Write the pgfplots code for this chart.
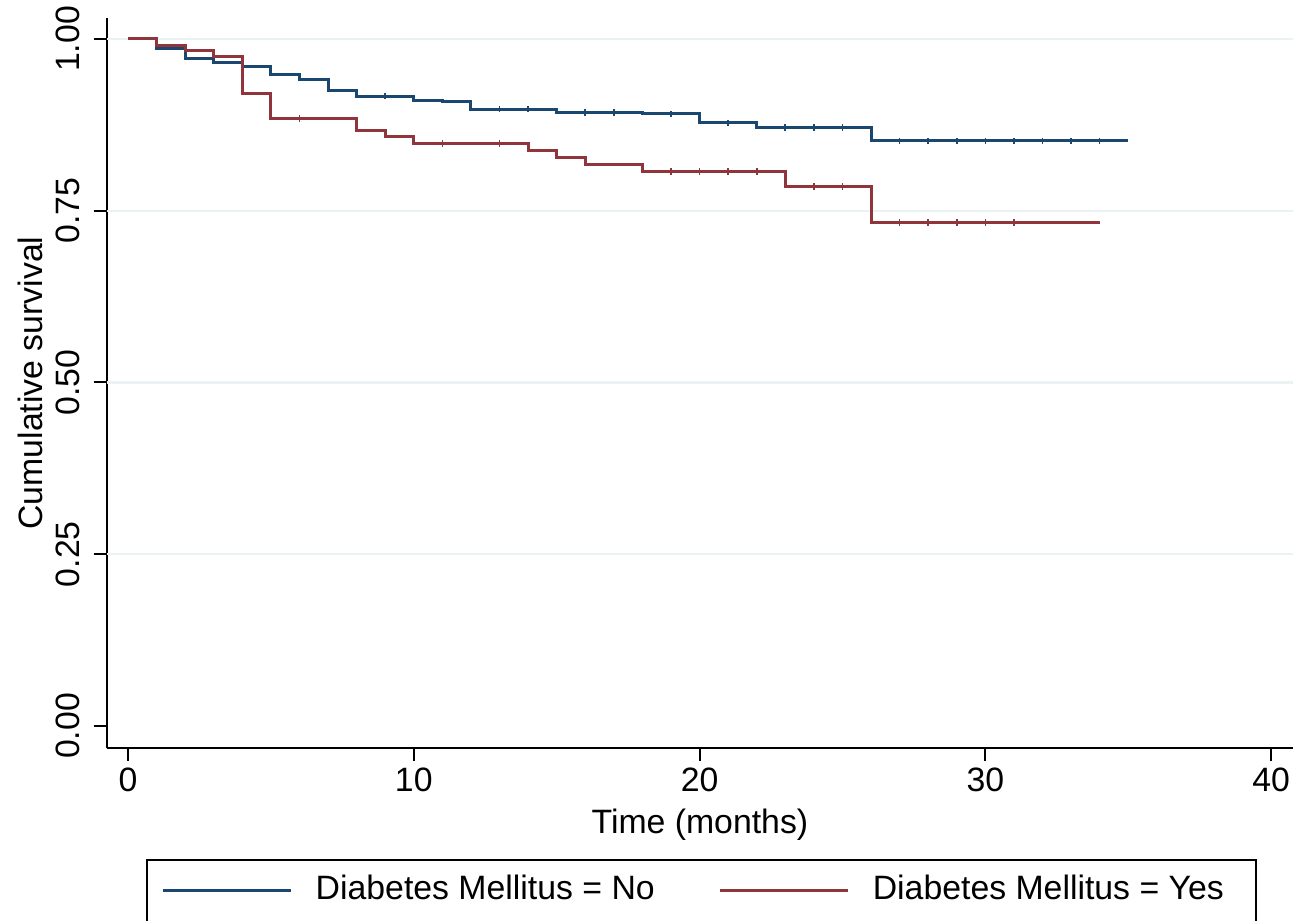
\documentclass[border=0pt]{standalone}
\usepackage{pgfplots}
\pgfplotsset{compat=1.18}
\usepackage{fontspec}
\setmainfont{Liberation Sans}
\definecolor{snavy}{HTML}{1A476F}
\definecolor{smaroon}{HTML}{90353B}
\definecolor{sgrid}{HTML}{EAF2F3}
\newcommand{\fs}{\fontsize{16.9}{20}\selectfont}
\begin{document}
\begin{tikzpicture}
\begin{axis}[
  at={(0pt,0pt)}, anchor=south west,
  scale only axis, width=593.2pt, height=364.7pt,
  xmin=-0.745, xmax=40.77, ymin=-0.0316, ymax=1.0301,
  axis x line*=bottom, axis y line*=left,
  axis line style={-, line width=1pt, black},
  xtick={0,10,20,30,40},
  ytick={0,0.25,0.5,0.75,1},
  tick align=outside,
  major tick length=6.5pt,
  every tick/.style={black, line width=1pt},
  extra y ticks={0.25,0.5,0.75,1},
  extra y tick labels={},
  extra y tick style={ymajorgrids=true, major tick length=0pt},
  major grid style={sgrid, line width=1.2pt},
  /pgf/number format/assume math mode=true,
  yticklabel shift=3.5pt,
  yticklabel style={/pgf/number format/.cd, fixed, fixed zerofill, precision=2, /tikz/.cd, rotate=90, anchor=south, font=\fs},
  xticklabel style={font=\fs},
  xlabel={Time (months)},
  ylabel={Cumulative survival},
  every axis x label/.style={at={([yshift=-38.5pt]axis description cs:0.5,0)}, anchor=center, font=\fs},
  every axis y label/.style={at={([xshift=-38.35pt]axis description cs:0,0.5)}, rotate=90, anchor=center, font=\fs},
  legend columns=2,
  legend image code/.code={\draw[#1] (0pt,4.5pt) -- (64pt,4.5pt);},
  legend style={at={(axis description cs:0.0329,-0.1526)}, anchor=north west,
    draw=black, line width=1pt, font=\fs, inner xsep=7.5pt, inner ysep=7.5pt,
    nodes={inner sep=0pt, text height=12.3pt, text depth=5pt, anchor=base west},
    /tikz/every odd column/.append style={column sep=11.5pt},
    /tikz/every even column/.append style={column sep=32pt}},
  legend cell align=left,
]
\addplot[const plot, snavy, line width=1.5pt] coordinates {
 (0,1.000) (1,0.9865) (2,0.9709) (3,0.966) (4,0.9597) (5,0.9486) (6,0.9403)
 (7,0.9243) (8,0.9166) (10,0.911) (11,0.909) (12,0.898) (15,0.893) (18,0.891)
 (20,0.878) (22,0.871) (26,0.8515) (35,0.8515)};
\addlegendentry{Diabetes Mellitus = No}
\addplot[only marks, mark=|, mark size=1.6pt, snavy, line width=0.8pt, forget plot] coordinates {
 (9,0.9166) (13,0.898) (14,0.898) (16,0.893) (17,0.893) (19,0.891) (21,0.878)
 (23,0.871) (24,0.871) (25,0.871) (27,0.8515) (28,0.8515) (29,0.8515) (30,0.8515)
 (31,0.8515) (32,0.8515) (33,0.8515) (34,0.8515)};
\addplot[const plot, smaroon, line width=1.5pt] coordinates {
 (0,1.000) (1,0.991) (2,0.983) (3,0.974) (4,0.920) (5,0.8845) (8,0.8666)
 (9,0.858) (10,0.848) (14,0.838) (15,0.828) (16,0.8176) (18,0.807) (23,0.785)
 (26,0.7326) (34,0.7326)};
\addlegendentry{Diabetes Mellitus = Yes\hspace*{8.5pt}}
\addplot[only marks, mark=|, mark size=1.6pt, smaroon, line width=0.8pt, forget plot] coordinates {
 (6,0.8845) (11,0.848) (13,0.848) (19,0.807) (20,0.807) (21,0.807) (22,0.807)
 (24,0.785) (25,0.785) (27,0.7326) (28,0.7326) (29,0.7326) (30,0.7326) (31,0.7326)};
\end{axis}
\pgfresetboundingbox
\path[use as bounding box] (-53.35pt,-86.15pt) rectangle (593.15pt,373.85pt);
\end{tikzpicture}
\end{document}
